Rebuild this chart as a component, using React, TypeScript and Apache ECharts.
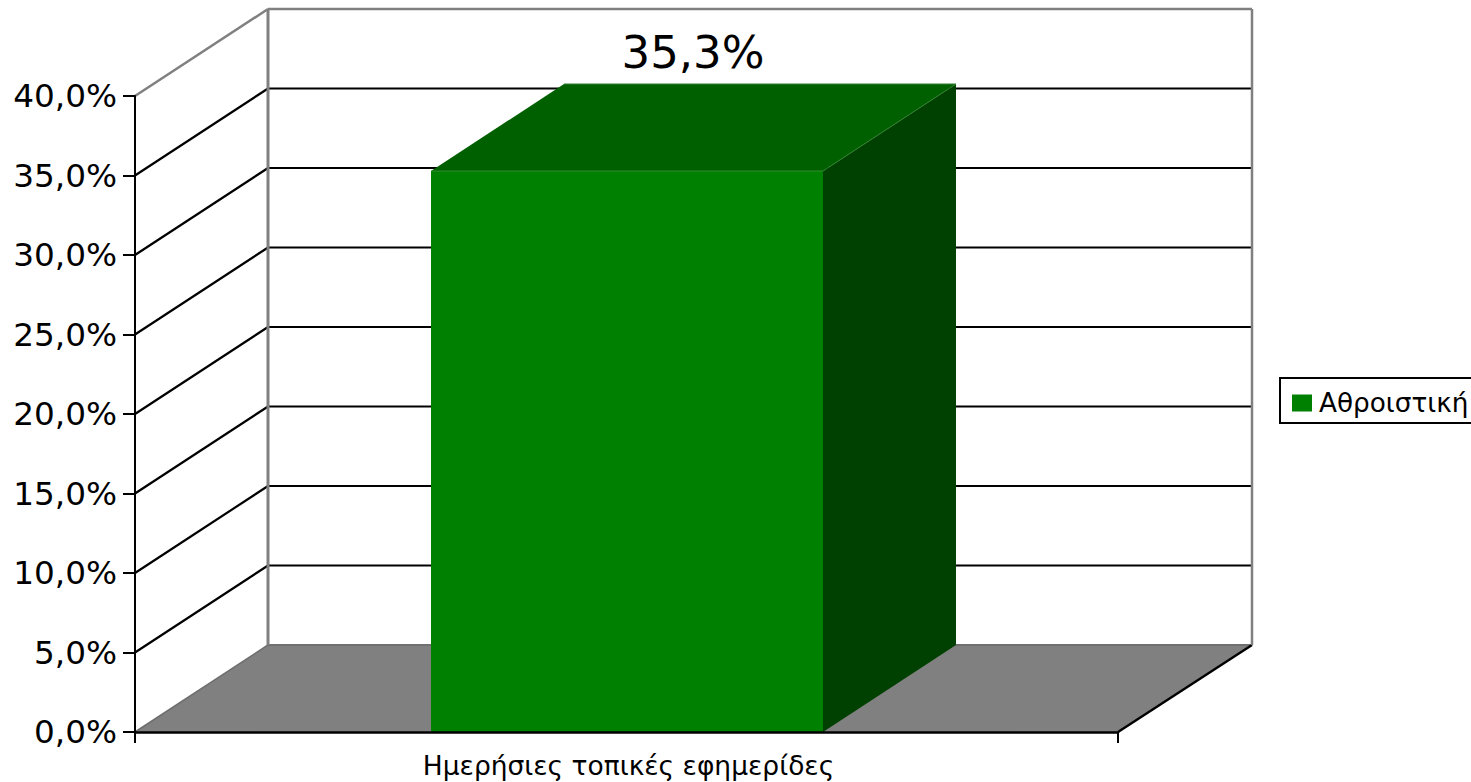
import React, { useEffect, useRef } from "react";
import * as echarts from "echarts";

const categories = ["Ημερήσιες τοπικές εφημερίδες"];
const seriesName = "Αθροιστική";
const seriesValues = [35.3];
const wallTicks = [0, 5, 10, 15, 20, 25, 30, 35, 40];
const DEPTH_X = 133;
const DEPTH_Y = -87;
const FONT = "'DejaVu Sans', Verdana, sans-serif";
const GRAY = "#808080";
const line = (x1: number, y1: number, x2: number, y2: number, stroke: string, lineWidth: number) => ({
  type: "line",
  shape: { x1, y1, x2, y2 },
  style: { stroke, lineWidth },
  silent: true,
});
const poly = (points: number[][], fill: string, stroke?: string) => ({
  type: "polygon",
  shape: { points },
  style: { fill, stroke: stroke || fill, lineWidth: stroke ? 1 : 0 },
  silent: true,
});

export default function App() {
  const ref = useRef<HTMLDivElement>(null);
  useEffect(() => {
    const chart = echarts.init(ref.current!, null, { renderer: "svg" });
    chart.setOption({
      animation: false,
      backgroundColor: "#ffffff",
      textStyle: { fontFamily: FONT },
      grid: { left: 135, right: 353, top: 96, bottom: 50 },
      legend: {
        left: 1280,
        top: 378,
        orient: "vertical",
        data: [{ name: seriesName, icon: "rect" }],
        itemWidth: 20,
        itemHeight: 17,
        itemGap: 0,
        padding: [12, 12, 7, 12],
        borderColor: "#000000",
        borderWidth: 2,
        textStyle: { fontSize: 26.3, color: "#000000", fontFamily: FONT, padding: [0, 0, 0, 2] },
        selectedMode: false,
      },
      xAxis: {
        type: "category",
        data: categories,
        z: 5,
        axisLine: { lineStyle: { color: "#000000", width: 2.5 } },
        axisTick: { show: true, length: 11, lineStyle: { color: "#000000", width: 2 } },
        axisLabel: { fontSize: 26.5, color: "#000000", margin: 20, fontFamily: FONT, padding: [0, 0, 0, 4] },
        splitLine: { show: false },
      },
      yAxis: {
        type: "value",
        min: 0,
        max: 40,
        interval: 5,
        z: 5,
        axisLine: { show: true, lineStyle: { color: "#000000", width: 2 } },
        axisTick: { show: true, length: 12, lineStyle: { color: "#000000", width: 2 } },
        axisLabel: {
          fontSize: 32.7,
          color: "#000000",
          margin: 18,
          fontFamily: FONT,
          padding: [6, 0, 0, 0],
          formatter: (v: number) => v.toFixed(1).replace(".", ",") + "%",
        },
        splitLine: { show: false },
      },
      series: [
        {
          type: "custom",
          name: "walls",
          silent: true,
          z: 1,
          data: wallTicks.map((v) => [0, v]),
          encode: { x: 0, y: 1 },
          renderItem: (params: any, api: any) => {
            const v = api.value(1);
            const cs = params.coordSys;
            const [, y] = api.coord([0, v]);
            const x0 = cs.x;
            const x1 = cs.x + cs.width;
            const bx0 = x0 + DEPTH_X;
            const bx1 = x1 + DEPTH_X + 1;
            const by = y + DEPTH_Y;
            const floorBack = cs.y + cs.height + DEPTH_Y;
            const children: any[] = [];
            if (v === 0) {
              children.push(poly([[x0, y], [bx0, by], [bx1, by], [x1, y]], GRAY));
              children.push(line(x0, y, bx0, by, "#6e6e6e", 1.5));
              children.push(line(bx0, by, bx1, by, "#707070", 2));
              children.push(line(x1, y, bx1, by, "#000000", 2.4));
            } else if (v === 40) {
              children.push(line(x0, y, bx0, by, GRAY, 2.5));
              children.push(line(bx0, by, bx1, by, GRAY, 2.5));
              children.push(line(bx0, by, bx0, floorBack, GRAY, 3));
              children.push(line(bx1, by, bx1, floorBack, GRAY, 2.5));
            } else {
              children.push(line(x0, y, bx0, by, "#000000", 2.2));
              children.push(line(bx0, by, bx1, by, "#000000", 2.2));
            }
            return { type: "group", children };
          },
        },
        {
          type: "custom",
          name: seriesName,
          z: 2,
          itemStyle: { color: "#008000" },
          data: seriesValues.map((v, i) => [i, v]),
          encode: { x: 0, y: 1 },
          renderItem: (_params: any, api: any) => {
            const idx = api.value(0);
            const val = api.value(1);
            const [cx, rawTop] = api.coord([idx, val]);
            const [, base] = api.coord([idx, 0]);
            const top = Math.round(rawTop);
            const w = api.size([1, 0])[0] * 0.399;
            const l = Math.ceil(cx - w / 2);
            const r = Math.round(cx + w / 2);
            const d = DEPTH_X;
            const e = DEPTH_Y;
            return {
              type: "group",
              children: [
                poly([[l, top], [r, top], [r, base], [l, base]], "#008000"),
                poly([[r, top], [r + d, top + e], [r + d, base + e], [r, base]], "#004000"),
                poly([[l, top], [l + d, top + e], [r + d, top + e], [r, top]], "#006000"),
                line(l, top, r, top, "#2f8f2f", 1),
                line(l + d, top + e, r + d, top + e, "#2f7f2f", 1),
                line(r, top, r + d, top + e, "#2f7f2f", 1),
                {
                  type: "text",
                  silent: true,
                  style: {
                    x: cx + d / 2,
                    y: top + e - 32,
                    text: (val as number).toFixed(1).replace(".", ",") + "%",
                    fontSize: 45,
                    fontFamily: FONT,
                    fill: "#000000",
                    textAlign: "center",
                    textVerticalAlign: "middle",
                  },
                },
              ],
            };
          },
        },
      ],
    });
    return () => chart.dispose();
  }, []);
  return <div ref={ref} style={{ position: "fixed", left: 0, top: 0, width: 1471, height: 782 }} />;
}
